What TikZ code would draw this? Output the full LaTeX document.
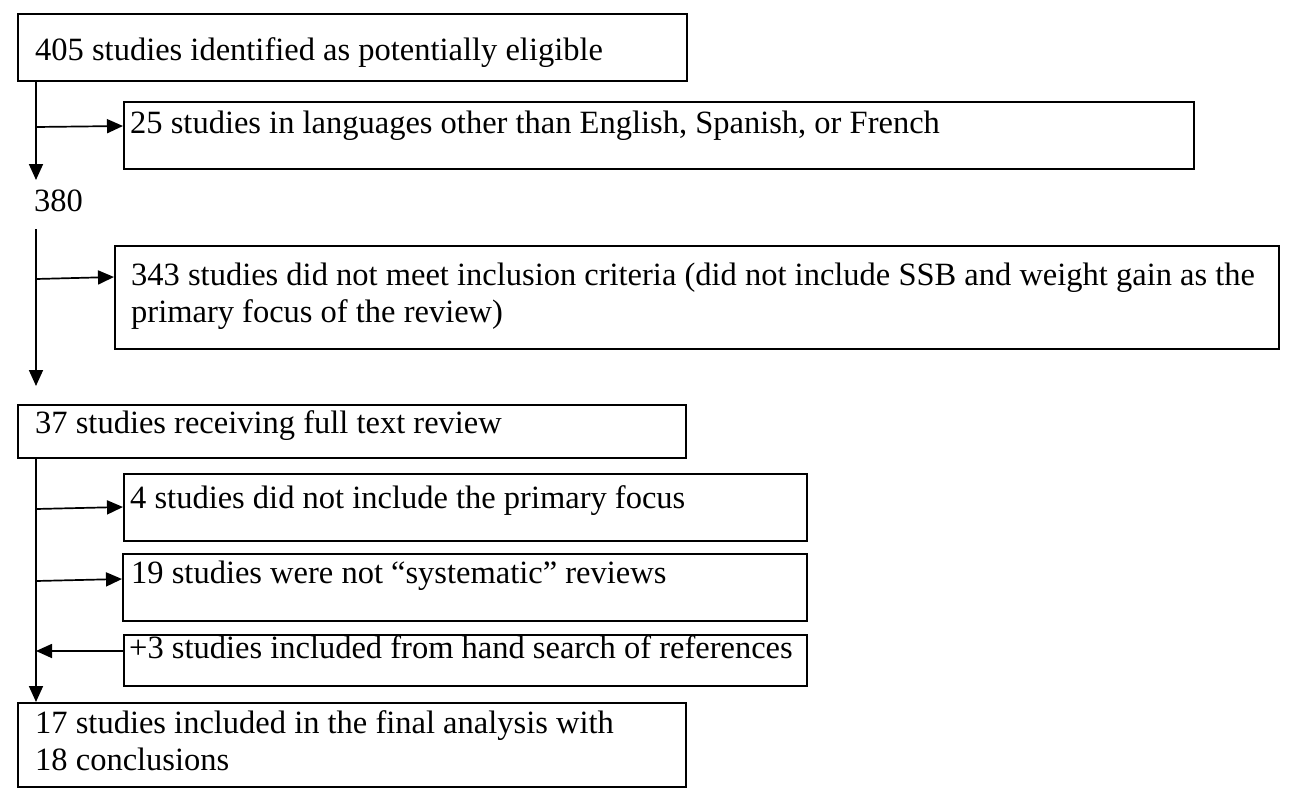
\documentclass[tikz,border=0pt]{standalone}
\usepackage{fontspec}
\setmainfont{Liberation Serif}
\usetikzlibrary{arrows.meta}
\tikzset{
  box/.style={draw, line width=1.7pt, rectangle, anchor=north west, inner sep=0pt},
  txt/.style={anchor=base west, inner sep=0pt, font=\fontsize{32.5}{37}\selectfont, align=left},
  arr/.style={line width=1.7pt, -{Triangle[length=16pt,width=14pt]}},
}
\begin{document}
\begin{tikzpicture}[x=1pt,y=-1pt]
\useasboundingbox (0,0) rectangle (1292,800);
% boxes
\node[box, minimum width=669pt, minimum height=67pt] (b1) at (17,13) {};
\node[box, minimum width=1070pt, minimum height=67pt] (b2) at (123,101) {};
\node[box, minimum width=1164pt, minimum height=103pt] (b3) at (114,245) {};
\node[box, minimum width=668pt, minimum height=53pt] (b4) at (17,404) {};
\node[box, minimum width=683pt, minimum height=67pt] (b5) at (123,473) {};
\node[box, minimum width=684pt, minimum height=67pt] (b6) at (122,553) {};
\node[box, minimum width=683pt, minimum height=51pt] (b7) at (123,634) {};
\node[box, minimum width=668pt, minimum height=84pt] (b8) at (17,702) {};
% texts
\node[txt] (t1) at (35,60) {405 studies identified as potentially eligible};
\node[txt] (t2) at (130,133) {25 studies in languages other than English, Spanish, or French};
\node[txt] (t380) at (34,211) {380};
\node[txt] (t3) at (131,322) {343 studies did not meet inclusion criteria (did not include SSB and weight gain as the\\primary focus of the review)};
\node[txt] (t4) at (35,433) {37 studies receiving full text review};
\node[txt] (t5) at (130,508) {4 studies did not include the primary focus};
\node[txt] (t6) at (131,583) {19 studies were not \char"201C systematic\char"201D{} reviews};
\node[txt] (t7) at (129,658) {+3 studies included from hand search of references};
\node[txt] (t8) at (35,770) {17 studies included in the final analysis with\\18 conclusions};
% connector points
\coordinate (s1) at (36,80);
\coordinate (e1) at (36,180);
\coordinate (j1) at (36,127);
\coordinate (s2) at (36,229);
\coordinate (e2) at (36,386);
\coordinate (j2) at (36,279);
\coordinate (s3) at (36,457);
\coordinate (j5) at (36,509);
\coordinate (j6) at (36,581);
\coordinate (j7) at (36,651);
% connectors
\draw[arr] (s1) -- (e1);
\draw[arr] (j1) -- (b2.west |- 0,126);
\draw[arr] (s2) -- (e2);
\draw[arr] (j2) -- (b3.west |- 0,277);
\draw[arr] (s3) -- (s3 |- b8.north);
\draw[arr] (j5) -- (b5.west |- 0,507);
\draw[arr] (j6) -- (b6.west |- 0,579);
\draw[arr] (b7.west |- j7) -- (j7);
\end{tikzpicture}
\end{document}
